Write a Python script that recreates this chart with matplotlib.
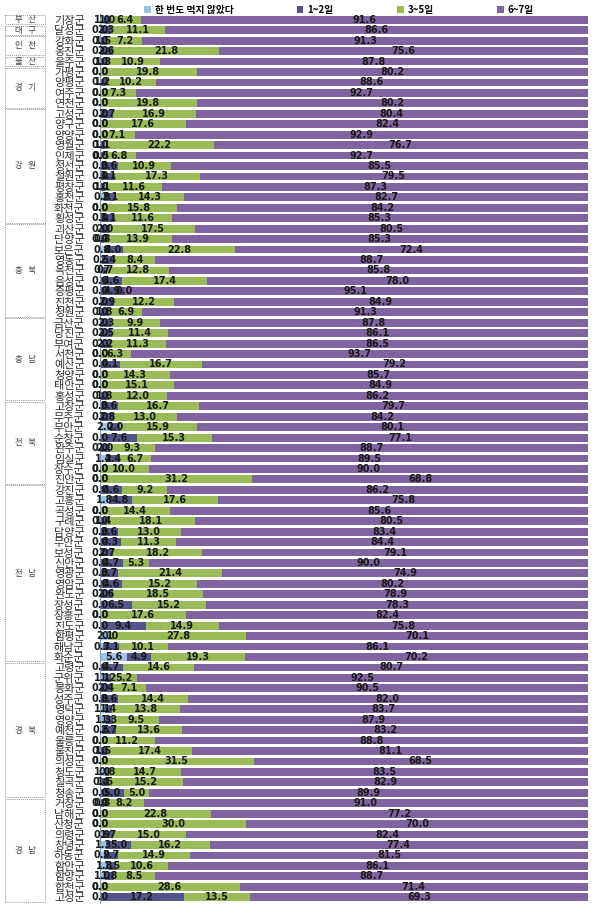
import matplotlib
matplotlib.use("Agg")
import matplotlib.pyplot as plt
from matplotlib.patches import Rectangle, Patch
import numpy as np

plt.rcParams['font.family'] = ['Noto Sans CJK KR', 'DejaVu Sans']

provinces = ["부 산", "대 구", "인 천", "울 산", "경 기", "강 원", "충 북", "충 남", "전 북", "전 남", "경 북", "경 남"]
province_counts = [1, 1, 2, 1, 4, 11, 9, 8, 8, 17, 13, 10]

counties = ["기장군", "달성군", "강화군", "옹진군", "울주군",
            "가평군", "양평군", "여주군", "연천군",
            "고성군", "양구군", "양양군", "영월군", "인제군", "정선군", "철원군", "평창군", "홍천군", "화천군", "횡성군",
            "괴산군", "단양군", "보은군", "영동군", "옥천군", "음성군", "증평군", "진천군", "청원군",
            "금산군", "당진군", "부여군", "서천군", "예산군", "청양군", "태안군", "홍성군",
            "고창군", "무주군", "부안군", "순창군", "완주군", "임실군", "장수군", "진안군",
            "강진군", "고흥군", "곡성군", "구례군", "담양군", "무안군", "보성군", "신안군", "영광군", "영암군",
            "완도군", "장성군", "장흥군", "진도군", "함평군", "해남군", "화순군",
            "고령군", "군위군", "봉화군", "성주군", "영덕군", "영양군", "예천군", "울릉군", "울진군", "의성군",
            "청도군", "칠곡군", "청송군",
            "거창군", "남해군", "산청군", "의령군", "창녕군", "하동군", "함안군", "함양군", "합천군", "고성군"]

never = [1.0, 0.0, 0.0, 0.0, 0.0,
         0.0, 0.0, 0.0, 0.0,
         0.0, 0.0, 0.0, 0.0, 0.0, 0.0, 0.0, 0.0, 0.9, 0.0, 0.0,
         0.0, 0.0, 0.8, 0.5, 0.7, 0.0, 0.0, 0.0, 0.0,
         0.0, 0.0, 0.0, 0.0, 0.0, 0.0, 0.0, 0.0,
         0.0, 0.0, 2.0, 0.0, 0.0, 1.4, 0.0, 0.0,
         0.0, 1.8, 0.0, 0.0, 0.0, 0.0, 0.0, 0.0, 0.0, 0.0,
         0.0, 0.0, 0.0, 0.0, 2.1, 0.7, 5.6,
         0.0, 1.1, 0.0, 0.0, 1.1, 1.3, 0.5, 0.0, 0.0, 0.0,
         1.0, 0.4, 0.0,
         0.0, 0.0, 0.0, 0.9, 1.3, 0.9, 1.8, 1.0, 0.0, 0.0]

days12 = [1.0, 2.3, 1.5, 2.6, 1.3,
          0.0, 1.2, 0.0, 0.0,
          2.7, 0.0, 0.0, 1.1, 0.5, 3.6, 3.1, 1.1, 2.1, 0.0, 3.1,
          2.0, 0.8, 4.0, 2.4, 0.7, 4.6, 4.9, 2.9, 1.8,
          2.3, 2.5, 2.2, 0.0, 4.1, 0.0, 0.0, 1.8,
          3.6, 2.8, 2.0, 7.6, 2.0, 2.4, 0.0, 0.0,
          4.6, 4.8, 0.0, 1.4, 3.6, 4.3, 2.7, 4.7, 3.7, 4.6,
          2.6, 6.5, 0.0, 9.4, 0.0, 3.1, 4.9,
          4.7, 1.2, 2.4, 3.6, 1.4, 1.3, 2.7, 0.0, 1.5, 0.0,
          0.8, 1.5, 5.0,
          0.8, 0.0, 0.0, 1.7, 5.0, 2.7, 1.5, 1.8, 0.0, 17.2]

days35 = [6.4, 11.1, 7.2, 21.8, 10.9,
          19.8, 10.2, 7.3, 19.8,
          16.9, 17.6, 7.1, 22.2, 6.8, 10.9, 17.3, 11.6, 14.3, 15.8, 11.6,
          17.5, 13.9, 22.8, 8.4, 12.8, 17.4, 0.0, 12.2, 6.9,
          9.9, 11.4, 11.3, 6.3, 16.7, 14.3, 15.1, 12.0,
          16.7, 13.0, 15.9, 15.3, 9.3, 6.7, 10.0, 31.2,
          9.2, 17.6, 14.4, 18.1, 13.0, 11.3, 18.2, 5.3, 21.4, 15.2,
          18.5, 15.2, 17.6, 14.9, 27.8, 10.1, 19.3,
          14.6, 5.2, 7.1, 14.4, 13.8, 9.5, 13.6, 11.2, 17.4, 31.5,
          14.7, 15.2, 5.0,
          8.2, 22.8, 30.0, 15.0, 16.2, 14.9, 10.6, 8.5, 28.6, 13.5]

days67 = [91.6, 86.6, 91.3, 75.6, 87.8,
          80.2, 88.6, 92.7, 80.2,
          80.4, 82.4, 92.9, 76.7, 92.7, 85.5, 79.5, 87.3, 82.7, 84.2, 85.3,
          80.5, 85.3, 72.4, 88.7, 85.8, 78.0, 95.1, 84.9, 91.3,
          87.8, 86.1, 86.5, 93.7, 79.2, 85.7, 84.9, 86.2,
          79.7, 84.2, 80.1, 77.1, 88.7, 89.5, 90.0, 68.8,
          86.2, 75.8, 85.6, 80.5, 83.4, 84.4, 79.1, 90.0, 74.9, 80.2,
          78.9, 78.3, 82.4, 75.8, 70.1, 86.1, 70.2,
          80.7, 92.5, 90.5, 82.0, 83.7, 87.9, 83.2, 88.8, 81.1, 68.5,
          83.5, 82.9, 89.9,
          91.0, 77.2, 70.0, 82.4, 77.4, 81.5, 86.1, 88.7, 71.4, 69.3]

series_names = ["한 번도 먹지 않았다", "1~2일", "3~5일", "6~7일"]
colors = ["#9CC3E6", "#53548A", "#9BBB59", "#8064A2"]

W, H = 603, 913
fig = plt.figure(figsize=(W / 100, H / 100), dpi=100)
ax_left, ax_right = 100, 588
ax_top, ax_bot = 14, 903
ax = fig.add_axes([ax_left / W, (H - ax_bot) / H, (ax_right - ax_left) / W, (ax_bot - ax_top) / H])

n = len(counties)
y = np.arange(n)
left = np.zeros(n)
data = [never, days12, days35, days67]
for vals, col, name in zip(data, colors, series_names):
    vals = np.array(vals)
    bars = ax.barh(y, vals, left=left, height=0.75, color=col, label=name, edgecolor='none')
    ax.bar_label(bars, labels=[f"{v:.1f}" for v in vals], label_type='center',
                 fontsize=7, fontweight='bold', color='#1a1a1a', family='DejaVu Sans')
    left += vals

ax.set_xlim(0, 100)
ax.set_ylim(n - 0.45, -0.55)
ax.set_yticks(y)
ax.set_yticklabels(counties, fontsize=8, color='#333333')
ax.tick_params(axis='y', length=0, pad=11)
ax.set_xticks([])
for s in ['top', 'right', 'bottom']:
    ax.spines[s].set_visible(False)
ax.spines['left'].set_color('#7F9DB9')
ax.spines['left'].set_linewidth(0.8)

# province boxes
trans = ax.get_yaxis_transform()
bx0 = (5 - ax_left) / (ax_right - ax_left)
bx1 = (45 - ax_left) / (ax_right - ax_left)
start = 0
for name, cnt in zip(provinces, province_counts):
    top = start - 0.42
    bottom = start + cnt - 1 + 0.42
    rect = Rectangle((bx0, top), bx1 - bx0, bottom - top, transform=trans, fill=False,
                     edgecolor='#999999', linestyle=(0, (1, 1)), linewidth=0.7, clip_on=False)
    ax.add_patch(rect)
    ax.text((bx0 + bx1) / 2, (top + bottom) / 2, name.replace(" ", "   "), transform=trans,
            ha='center', va='center', fontsize=6, color='#444444', clip_on=False)
    start += cnt

handles = [Patch(facecolor=c, edgecolor='none') for c in colors]
fig.legend(handles, series_names, loc='upper center', bbox_to_anchor=(0.562, 1.004), ncol=4,
           frameon=False, handlelength=0.7, handleheight=0.7, handletextpad=0.4,
           columnspacing=6.5, prop={'weight': 'bold', 'size': 7})

fig.savefig("out.png", dpi=100)
